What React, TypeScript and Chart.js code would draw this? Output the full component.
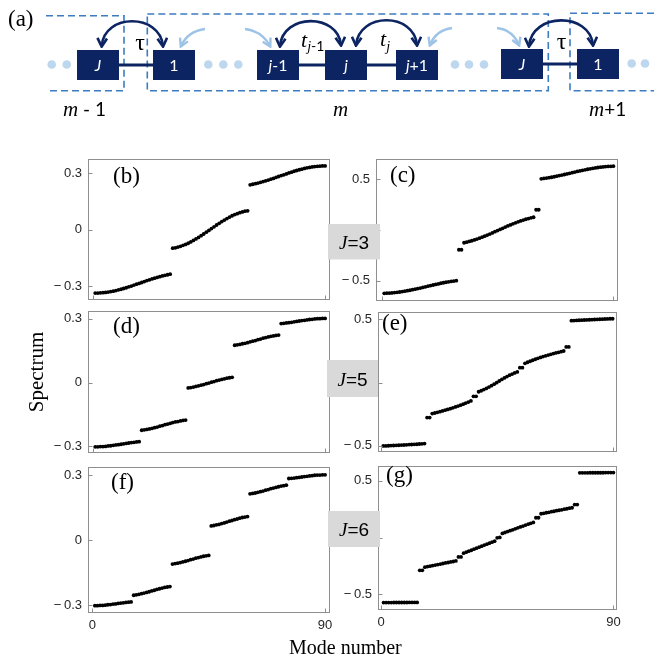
import React, { useEffect, useRef } from "react";
import { Chart, registerables } from "chart.js";

Chart.register(...registerables);

// ---------- axis ticks ----------
const modeTicks = [0, 90];
const modeTickLabels = ["0", "90"];
const spectrumTicksNarrow = [-0.3, 0, 0.3];
const spectrumTickLabelsNarrow = ["\u2212\u20090.3", "0", "0.3"];
const spectrumTicksWide = [-0.5, 0, 0.5];
const spectrumTickLabelsWide = ["\u2212\u20090.5", "0", "0.5"];

// ---------- (b) J=3 ----------
const specB1 = [-0.337, -0.337, -0.336, -0.335, -0.334, -0.332, -0.329, -0.327, -0.324, -0.320, -0.317, -0.313, -0.309, -0.304, -0.300, -0.295, -0.290, -0.286, -0.281, -0.276, -0.271, -0.267, -0.262, -0.258, -0.254, -0.250, -0.246, -0.243, -0.240, -0.237];
const specB2 = [-0.099, -0.097, -0.093, -0.089, -0.084, -0.079, -0.073, -0.066, -0.058, -0.050, -0.042, -0.033, -0.024, -0.014, -0.005, 0.005, 0.014, 0.024, 0.033, 0.042, 0.050, 0.058, 0.066, 0.073, 0.079, 0.084, 0.089, 0.093, 0.097, 0.099];
const specB3 = [0.237, 0.240, 0.243, 0.246, 0.250, 0.254, 0.258, 0.262, 0.267, 0.271, 0.276, 0.281, 0.286, 0.290, 0.295, 0.300, 0.304, 0.309, 0.313, 0.317, 0.320, 0.324, 0.327, 0.329, 0.332, 0.334, 0.335, 0.336, 0.337, 0.337];

// ---------- (c) J=3 ----------
const specC1 = [-0.625, -0.624, -0.623, -0.621, -0.618, -0.615, -0.612, -0.608, -0.604, -0.599, -0.595, -0.589, -0.584, -0.578, -0.573, -0.567, -0.561, -0.555, -0.549, -0.543, -0.537, -0.532, -0.526, -0.521, -0.516, -0.512, -0.508, -0.504, -0.500];
const specCEdgeLow = [-0.195, -0.195];
const specC2 = [-0.126, -0.120, -0.113, -0.106, -0.098, -0.090, -0.081, -0.071, -0.061, -0.050, -0.040, -0.029, -0.017, -0.006, 0.006, 0.017, 0.029, 0.040, 0.050, 0.061, 0.071, 0.081, 0.090, 0.098, 0.106, 0.113, 0.120, 0.126];
const specCEdgeHigh = [0.200, 0.200];
const specC3 = [0.505, 0.509, 0.513, 0.517, 0.521, 0.526, 0.531, 0.537, 0.542, 0.548, 0.554, 0.560, 0.566, 0.572, 0.578, 0.583, 0.589, 0.594, 0.600, 0.604, 0.609, 0.613, 0.617, 0.620, 0.623, 0.626, 0.628, 0.629, 0.630];

// ---------- (d) J=5 ----------
const specD1 = [-0.302, -0.302, -0.301, -0.301, -0.300, -0.298, -0.297, -0.295, -0.293, -0.292, -0.290, -0.288, -0.286, -0.284, -0.282, -0.281, -0.279, -0.278];
const specD2 = [-0.224, -0.222, -0.220, -0.218, -0.215, -0.212, -0.209, -0.205, -0.202, -0.198, -0.195, -0.192, -0.188, -0.185, -0.183, -0.180, -0.178, -0.176];
const specD3 = [-0.025, -0.023, -0.021, -0.018, -0.015, -0.012, -0.009, -0.005, -0.002, 0.002, 0.005, 0.009, 0.012, 0.015, 0.018, 0.021, 0.023, 0.025];
const specD4 = [0.176, 0.178, 0.180, 0.183, 0.185, 0.188, 0.192, 0.195, 0.198, 0.202, 0.205, 0.209, 0.212, 0.215, 0.218, 0.220, 0.222, 0.224];
const specD5 = [0.278, 0.279, 0.281, 0.282, 0.284, 0.286, 0.288, 0.290, 0.292, 0.293, 0.295, 0.297, 0.298, 0.300, 0.301, 0.301, 0.302, 0.302];

// ---------- (e) J=5 ----------
const specE1 = [-0.500, -0.500, -0.499, -0.498, -0.497, -0.496, -0.495, -0.494, -0.493, -0.492, -0.490, -0.489, -0.488, -0.487, -0.485, -0.484, -0.482];
const specEEdge1 = [-0.276, -0.276];
const specE2 = [-0.245, -0.240, -0.235, -0.230, -0.224, -0.218, -0.212, -0.206, -0.199, -0.192, -0.185, -0.178, -0.170, -0.162, -0.154, -0.145];
const specEEdge2 = [-0.108, -0.108];
const specE3 = [-0.072, -0.064, -0.055, -0.046, -0.035, -0.024, -0.012, 0.000, 0.013, 0.025, 0.037, 0.048, 0.059, 0.068, 0.077, 0.085];
const specEEdge3 = [0.118, 0.118];
const specE4 = [0.153, 0.161, 0.169, 0.177, 0.185, 0.192, 0.199, 0.206, 0.212, 0.218, 0.224, 0.230, 0.235, 0.240, 0.245, 0.250];
const specEEdge4 = [0.282, 0.282];
const specE5 = [0.490, 0.491, 0.492, 0.493, 0.494, 0.495, 0.496, 0.497, 0.498, 0.499, 0.500, 0.501, 0.502, 0.503, 0.504, 0.505, 0.505];

// ---------- (f) J=6 ----------
const specF1 = [-0.302, -0.302, -0.301, -0.301, -0.300, -0.298, -0.297, -0.295, -0.294, -0.292, -0.290, -0.289, -0.287, -0.286, -0.285];
const specF2 = [-0.254, -0.252, -0.250, -0.247, -0.244, -0.241, -0.238, -0.234, -0.231, -0.227, -0.224, -0.221, -0.218, -0.216, -0.214];
const specF3 = [-0.110, -0.108, -0.106, -0.103, -0.100, -0.097, -0.094, -0.090, -0.087, -0.083, -0.080, -0.077, -0.074, -0.072, -0.070];
const specF4 = [0.066, 0.068, 0.071, 0.073, 0.077, 0.080, 0.084, 0.088, 0.091, 0.095, 0.098, 0.102, 0.105, 0.107, 0.109];
const specF5 = [0.214, 0.216, 0.218, 0.221, 0.224, 0.227, 0.231, 0.234, 0.238, 0.241, 0.244, 0.247, 0.250, 0.252, 0.254];
const specF6 = [0.285, 0.286, 0.287, 0.289, 0.290, 0.292, 0.294, 0.295, 0.297, 0.298, 0.300, 0.301, 0.301, 0.302, 0.302];

// ---------- (g) J=6 ----------
const specG1 = [-0.572, -0.572, -0.572, -0.572, -0.571, -0.571, -0.571, -0.571, -0.571, -0.571, -0.570, -0.570, -0.570, -0.570];
const specGEdge1 = [-0.288, -0.288];
const specG2 = [-0.260, -0.255, -0.251, -0.246, -0.242, -0.237, -0.233, -0.228, -0.223, -0.219, -0.214, -0.210, -0.205];
const specGEdge2 = [-0.170, -0.170];
const specG3 = [-0.137, -0.128, -0.119, -0.111, -0.102, -0.093, -0.084, -0.075, -0.066, -0.058, -0.049, -0.040, -0.031];
const specGEdge3 = [-0.002, 0.002];
const specG4 = [0.037, 0.045, 0.053, 0.061, 0.069, 0.077, 0.086, 0.094, 0.102, 0.110, 0.118, 0.126, 0.134];
const specGEdge4 = [0.175, 0.175];
const specG5 = [0.210, 0.214, 0.219, 0.223, 0.228, 0.232, 0.237, 0.241, 0.245, 0.250, 0.254, 0.259, 0.263];
const specGEdge5 = [0.291, 0.291];
const specG6 = [0.570, 0.570, 0.570, 0.570, 0.571, 0.571, 0.571, 0.571, 0.571, 0.571, 0.572, 0.572, 0.572, 0.572];

const spectrumB = [...specB1, ...specB2, ...specB3];
const spectrumC = [...specC1, ...specCEdgeLow, ...specC2, ...specCEdgeHigh, ...specC3];
const spectrumD = [...specD1, ...specD2, ...specD3, ...specD4, ...specD5];
const spectrumE = [...specE1, ...specEEdge1, ...specE2, ...specEEdge2, ...specE3, ...specEEdge3, ...specE4, ...specEEdge4, ...specE5];
const spectrumF = [...specF1, ...specF2, ...specF3, ...specF4, ...specF5, ...specF6];
const spectrumG = [...specG1, ...specGEdge1, ...specG2, ...specGEdge2, ...specG3, ...specGEdge3, ...specG4, ...specGEdge4, ...specG5, ...specGEdge5, ...specG6];

// ---------- layout (separate from data) ----------
type PanelCfg = {
  key: string;
  values: number[];
  frame: [number, number, number, number]; // left, top, right, bottom in page px
  xRange: [number, number];
  yRange: [number, number];
  yTicks: number[];
  yTickLabels: string[];
  showModeLabels: boolean;
};

const panels: PanelCfg[] = [
  { key: "b", values: spectrumB, frame: [88, 155, 330, 304], xRange: [-1.8, 91.9], yRange: [-0.375, 0.375], yTicks: spectrumTicksNarrow, yTickLabels: spectrumTickLabelsNarrow, showModeLabels: false },
  { key: "c", values: spectrumC, frame: [376, 155, 618, 305], xRange: [-2.2, 91.8], yRange: [-0.703, 0.703], yTicks: spectrumTicksWide, yTickLabels: spectrumTickLabelsWide, showModeLabels: false },
  { key: "d", values: spectrumD, frame: [88, 307, 330, 457], xRange: [-1.8, 91.9], yRange: [-0.332, 0.338], yTicks: spectrumTicksNarrow, yTickLabels: spectrumTickLabelsNarrow, showModeLabels: false },
  { key: "e", values: spectrumE, frame: [378, 308, 617, 456], xRange: [-1.05, 91.7], yRange: [-0.55, 0.56], yTicks: spectrumTicksWide, yTickLabels: spectrumTickLabelsWide, showModeLabels: false },
  { key: "f", values: spectrumF, frame: [88, 463, 330, 613], xRange: [-1.66, 91.9], yRange: [-0.336, 0.339], yTicks: spectrumTicksNarrow, yTickLabels: spectrumTickLabelsNarrow, showModeLabels: true },
  { key: "g", values: spectrumG, frame: [378, 462, 617, 610], xRange: [-1.16, 91.4], yRange: [-0.637, 0.632], yTicks: spectrumTicksWide, yTickLabels: spectrumTickLabelsWide, showModeLabels: true },
];

const YW = 50;
const PT = 10;
const PR = 10;
const tickFont = { family: "'Liberation Sans', Arial, sans-serif", size: 13 };
const tickColor = "#262626";

function makeFramePlugin(cfg: PanelCfg) {
  return {
    id: "frame_" + cfg.key,
    afterDatasetsDraw(chart: any) {
      const { ctx, chartArea: a, scales } = chart;
      ctx.save();
      ctx.strokeStyle = "#8f8f8f";
      ctx.lineWidth = 1;
      const l = Math.round(a.left) + 0.5;
      const t = Math.round(a.top) + 0.5;
      const r = Math.round(a.right) - 0.5;
      const b = Math.round(a.bottom) - 0.5;
      ctx.strokeRect(l, t, r - l, b - t);
      ctx.beginPath();
      cfg.yTicks.forEach((v) => {
        const y = Math.round(scales.y.getPixelForValue(v)) + 0.5;
        ctx.moveTo(l, y);
        ctx.lineTo(l + 4, y);
      });
      modeTicks.forEach((v) => {
        const x = Math.round(scales.x.getPixelForValue(v)) + 0.5;
        ctx.moveTo(x, b);
        ctx.lineTo(x, b - 4);
      });
      ctx.stroke();
      ctx.restore();
    },
  };
}

function SpectrumPanel({ cfg }: { cfg: PanelCfg }) {
  const ref = useRef<HTMLCanvasElement | null>(null);
  const XH = cfg.showModeLabels ? 26 : 10;
  const [L, T, R, B] = cfg.frame;
  const cw = R - L + YW + PR;
  const ch = B - T + PT + XH;

  useEffect(() => {
    if (!ref.current) return;
    const chart = new Chart(ref.current, {
      type: "scatter",
      data: {
        datasets: [
          {
            data: cfg.values.map((v, i) => ({ x: i + 1, y: v })),
            pointRadius: 1.9,
            pointHoverRadius: 1.9,
            pointBackgroundColor: "#000",
            pointBorderColor: "#000",
            pointBorderWidth: 0,
            showLine: false,
          },
        ],
      },
      options: {
        animation: false,
        responsive: false,
        devicePixelRatio: 1,
        events: [],
        layout: { padding: { top: PT, right: PR, left: 0, bottom: 0 } },
        plugins: { legend: { display: false }, tooltip: { enabled: false } },
        scales: {
          x: {
            type: "linear",
            min: cfg.xRange[0],
            max: cfg.xRange[1],
            grid: { display: false, drawTicks: false },
            border: { display: false },
            ticks: {
              display: cfg.showModeLabels,
              padding: 5,
              font: tickFont,
              color: tickColor,
              maxRotation: 0,
              autoSkip: false,
              callback: (_v: any, i: number) => modeTickLabels[i],
            },
            afterBuildTicks: (s: any) => {
              s.ticks = modeTicks.map((v) => ({ value: v }));
            },
            afterFit: (s: any) => {
              s.height = XH;
            },
          },
          y: {
            type: "linear",
            min: cfg.yRange[0],
            max: cfg.yRange[1],
            grid: { display: false, drawTicks: false },
            border: { display: false },
            ticks: {
              padding: 6,
              font: tickFont,
              color: tickColor,
              autoSkip: false,
              callback: (_v: any, i: number) => cfg.yTickLabels[i],
            },
            afterBuildTicks: (s: any) => {
              s.ticks = cfg.yTicks.map((v) => ({ value: v }));
            },
            afterFit: (s: any) => {
              s.width = YW;
            },
          },
        },
      },
      plugins: [makeFramePlugin(cfg)],
    } as any);
    return () => chart.destroy();
  }, []);

  return (
    <canvas
      ref={ref}
      width={cw}
      height={ch}
      style={{ position: "absolute", left: L - YW, top: T - PT, width: cw, height: ch }}
    />
  );
}

const NAVY = "#0c2461";
const LIGHT = "#9dc3e6";
const DOT = "#bdd7ee";
const DASH = "#3d7cc0";
const SERIF = "'Liberation Serif', 'Times New Roman', serif";
const SANS = "Lato, 'Liberation Sans', sans-serif";

function Schematic() {
  const boxes = [
    { x: 77, y: 50, label: "J", italic: true },
    { x: 153, y: 50, label: "1", italic: false },
    { x: 257, y: 50, label: "j-1", italic: true },
    { x: 325, y: 50, label: "j", italic: true },
    { x: 396, y: 50, label: "j+1", italic: true },
    { x: 501, y: 49, label: "J", italic: true },
    { x: 577, y: 49, label: "1", italic: false },
  ];
  const dots = [51.7, 66.7, 208.3, 223.3, 238.3, 455, 469, 484, 631.7, 645];
  return (
    <g>
      <defs>
        <marker id="hn" viewBox="0 0 10 10" refX="8" refY="5" markerWidth="12" markerHeight="12" markerUnits="userSpaceOnUse" orient="auto-start-reverse">
          <path d="M1.5,1 L8.5,5 L1.5,9" fill="none" stroke={NAVY} strokeWidth="2.2" />
        </marker>
        <marker id="hl" viewBox="0 0 10 10" refX="8" refY="5" markerWidth="11" markerHeight="11" markerUnits="userSpaceOnUse" orient="auto-start-reverse">
          <path d="M1.5,1 L8.5,5 L1.5,9" fill="none" stroke={LIGHT} strokeWidth="2.2" />
        </marker>
      </defs>
      <text x={8} y={26} fontFamily={SERIF} fontSize={23} fill="#000">(a)</text>
      <path d="M46 15.7 H124 V90.7 H46" fill="none" stroke={DASH} strokeWidth={1.6} strokeDasharray="7 4" />
      <rect x={147.3} y={14} width={401} height={76.7} fill="none" stroke={DASH} strokeWidth={1.6} strokeDasharray="7 4" />
      <path d="M654 13.3 H570 V90.7 H654" fill="none" stroke={DASH} strokeWidth={1.6} strokeDasharray="7 4" />
      {dots.map((x, i) => (
        <circle key={i} cx={x} cy={i >= 8 ? 63.5 : 64.5} r={4.3} fill={DOT} />
      ))}
      <line x1={119} y1={65} x2={153} y2={65} stroke={NAVY} strokeWidth={3} />
      <line x1={298} y1={65} x2={325} y2={65} stroke={NAVY} strokeWidth={3} />
      <line x1={366} y1={65} x2={396} y2={65} stroke={NAVY} strokeWidth={3} />
      <line x1={543} y1={64} x2={577} y2={64} stroke={NAVY} strokeWidth={3} />
      {boxes.map((b, i) => (
        <g key={i}>
          <rect x={b.x} y={b.y} width={42} height={30} fill={NAVY} />
          <text x={b.x + 21} y={b.y + 20.5} textAnchor="middle" fontFamily={SANS} fontSize={16} fill="#fff">
            {b.label.length > 1 ? (
              <>
                <tspan fontStyle="italic">{b.label[0]}</tspan>
                <tspan>{b.label.slice(1)}</tspan>
              </>
            ) : (
              <tspan fontStyle={b.italic ? "italic" : "normal"}>{b.label}</tspan>
            )}
          </text>
        </g>
      ))}
      <path d="M101.7 46 C104 13, 160 13, 163 46" fill="none" stroke={NAVY} strokeWidth={2.6} markerStart="url(#hn)" markerEnd="url(#hn)" />
      <path d="M280 46 C283 13, 338 13, 341 45" fill="none" stroke={NAVY} strokeWidth={2.6} markerStart="url(#hn)" markerEnd="url(#hn)" />
      <path d="M356 45 C359 12, 414 12, 417 45" fill="none" stroke={NAVY} strokeWidth={2.6} markerStart="url(#hn)" markerEnd="url(#hn)" />
      <path d="M529 46 C532 12, 590 12, 593 45" fill="none" stroke={NAVY} strokeWidth={2.6} markerStart="url(#hn)" markerEnd="url(#hn)" />
      <path d="M205 29 Q188 31, 181 46" fill="none" stroke={LIGHT} strokeWidth={2.4} markerEnd="url(#hl)" />
      <path d="M245 29 Q262 31, 270 46" fill="none" stroke={LIGHT} strokeWidth={2.4} markerEnd="url(#hl)" />
      <path d="M452 28 Q436 30, 430 45" fill="none" stroke={LIGHT} strokeWidth={2.4} markerEnd="url(#hl)" />
      <path d="M497 28 Q513 30, 519 45" fill="none" stroke={LIGHT} strokeWidth={2.4} markerEnd="url(#hl)" />
      <text x={140} y={50} textAnchor="middle" fontFamily={SERIF} fontSize={24} fill="#000">τ</text>
      <text x={561.7} y={49} textAnchor="middle" fontFamily={SERIF} fontSize={24} fill="#000">τ</text>
      <text x={301} y={47} fontFamily={SERIF} fontSize={22} fill="#000">
        <tspan fontStyle="italic">t</tspan>
        <tspan fontSize={14} dy={4} fontStyle="italic">j</tspan>
        <tspan fontSize={14} fontFamily={SANS}>-1</tspan>
      </text>
      <text x={380} y={46} fontFamily={SERIF} fontSize={22} fill="#000">
        <tspan fontStyle="italic">t</tspan>
        <tspan fontSize={14} dy={5} fontStyle="italic">j</tspan>
      </text>
      <text x={63} y={116} fontFamily={SERIF} fontSize={21} fill="#000">
        <tspan fontStyle="italic">m</tspan>
        <tspan fontFamily={SANS} fontSize={19}> - 1</tspan>
      </text>
      <text x={333} y={116} fontFamily={SERIF} fontSize={21} fontStyle="italic" fill="#000">m</text>
      <text x={589} y={116} fontFamily={SERIF} fontSize={21} fill="#000">
        <tspan fontStyle="italic">m</tspan>
        <tspan fontFamily={SANS} fontSize={19}>+1</tspan>
      </text>
    </g>
  );
}

const panelLetters = [
  { t: "(b)", x: 113, y: 183 },
  { t: "(c)", x: 390, y: 182 },
  { t: "(d)", x: 113, y: 333 },
  { t: "(e)", x: 382, y: 330 },
  { t: "(f)", x: 111, y: 489 },
  { t: "(g)", x: 386, y: 482 },
];

const jTags = [
  { n: "3", x: 328, y: 224, w: 52, h: 35.5 },
  { n: "5", x: 327, y: 360, w: 51, h: 37 },
  { n: "6", x: 328, y: 511, w: 52, h: 36 },
];

export default function App() {
  return (
    <div style={{ position: "absolute", left: 0, top: 0, width: 654, height: 656, overflow: "hidden", background: "#fff" }}>
      {panels.map((p) => (
        <SpectrumPanel key={p.key} cfg={p} />
      ))}
      <svg width={654} height={656} style={{ position: "absolute", left: 0, top: 0, pointerEvents: "none" }}>
        <Schematic />
        {panelLetters.map((l) => (
          <text key={l.t} x={l.x} y={l.y} fontFamily={SERIF} fontSize={23} fill="#000">{l.t}</text>
        ))}
        {jTags.map((j) => (
          <g key={j.n}>
            <rect x={j.x} y={j.y} width={j.w} height={j.h} fill="#d9d9d9" />
            <text x={j.x + j.w / 2} y={j.y + j.h / 2 + 7} textAnchor="middle" fontSize={19} fill="#000">
              <tspan fontFamily={SERIF} fontStyle="italic">J</tspan>
              <tspan fontFamily="'Liberation Sans', Arial, sans-serif">={j.n}</tspan>
            </text>
          </g>
        ))}
        <text transform="translate(43,372) rotate(-90)" textAnchor="middle" fontFamily={SERIF} fontSize={21} fill="#000">Spectrum</text>
        <text x={289} y={654} fontFamily={SERIF} fontSize={20} fill="#000">Mode number</text>
      </svg>
    </div>
  );
}
